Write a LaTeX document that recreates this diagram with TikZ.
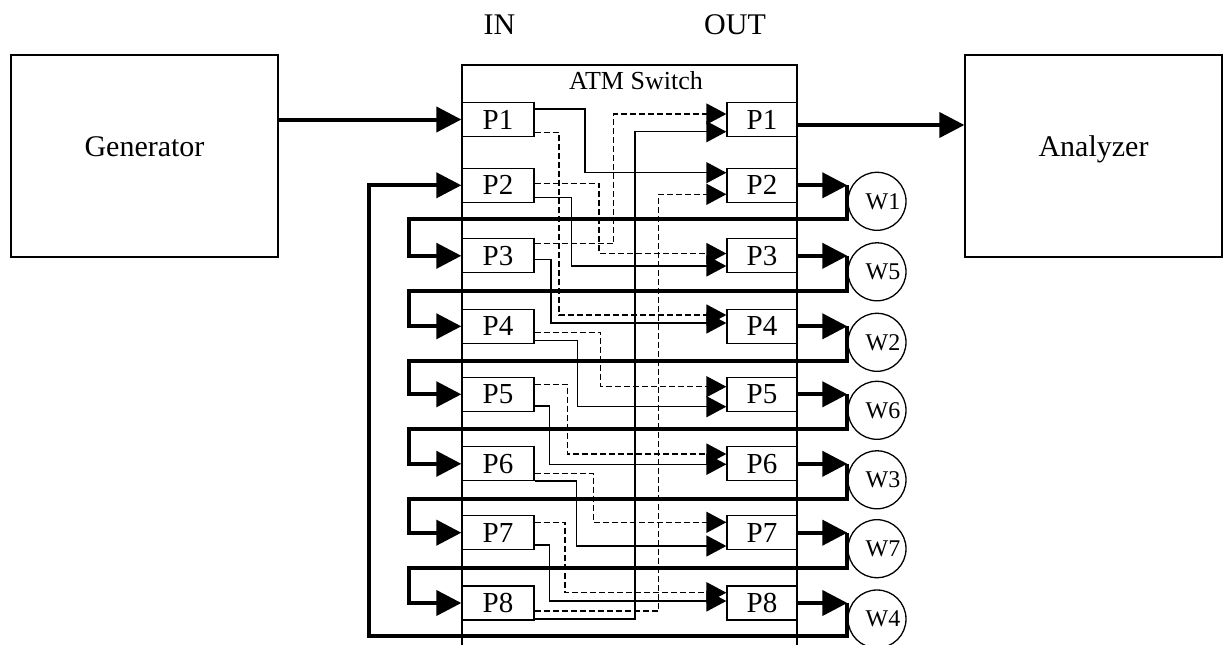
\documentclass[tikz,border=0pt]{standalone}
\usepackage{fontspec}
\setmainfont{Liberation Serif}
\usetikzlibrary{arrows.meta}
\newcommand\myBig{\fontsize{30}{36}\selectfont}
\newcommand\myPort{\fontsize{29}{34}\selectfont}
\newcommand\myAtm{\fontsize{26}{31}\selectfont}
\newcommand\myW{\fontsize{24}{28}\selectfont}
\begin{document}
\begin{tikzpicture}[x=1pt,y=-1pt,
  box/.style={draw, line width=1.3pt, inner sep=0pt},
  bigbox/.style={box, minimum width=267pt, minimum height=202pt, font=\myBig, text height=10pt, text depth=10pt},
  inport/.style={box, minimum width=72pt, minimum height=34pt, font=\myPort},
  outport/.style={box, minimum width=70pt, minimum height=34pt, font=\myPort},
  wnode/.style={draw, circle, line width=1.3pt, minimum size=58pt, inner sep=0pt, font=\myW},
  sig/.style={line width=1.4pt, -{Triangle[length=20pt,width=21pt]}},
  dsig/.style={sig, dash pattern=on 6pt off 3pt},
  thk/.style={line width=4pt},
  thka/.style={thk, -{Triangle[length=25pt,width=25pt]}},
  lbl/.style={font=\myBig, anchor=base},
]
\useasboundingbox (0,0) rectangle (1232,645);

% outer boxes
\node[bigbox] (gen) at (144.5,156) {Generator};
\node[bigbox, minimum width=257pt] (ana) at (1093.5,156) {Analyzer};

% switch outline
\draw[line width=1.3pt] (462,645) -- (462,65) -- (797,65) -- (797,645);
\node[lbl] (inl) at (499.5,34.3) {IN};
\node[lbl] (outl) at (735,34.3) {OUT};
\node[font=\myAtm, anchor=base] (atm) at (636,89) {ATM Switch};

% ports
\foreach \k/\y in {1/119.5,2/185.3,3/255.8,4/326.3,5/394.3,6/463.8,7/532.7,8/603}{
  \node[inport] (i\k) at (498,\y) {P\k};
  \node[outport] (o\k) at (762,\y) {P\k};
}

% W circles
\foreach \w/\y in {1/201.3,5/271.8,2/342.3,6/410.3,3/479.8,7/548.7,4/619}{
  \node[wnode] (w\w) at (877,\y) {\hspace*{12pt}W\w};
}

% switching connectors
\draw[sig]  (i1.east |- 0,109)   -| (585,172.7)   -- (o2.west |- 0,172.7);
\draw[dsig] (i1.east |- 0,132.3) -| (559,315)     -- (o4.west |- 0,315);
\draw[dsig] (i2.east |- 0,183.7) -| (599,253.5)   -- (o3.west |- 0,253.5);
\draw[sig]  (i2.east |- 0,197.7) -| (571.7,266)   -- (o3.west |- 0,266);
\draw[dsig] (i3.east |- 0,243.7) -| (613.5,114)   -- (o1.west |- 0,114);
\draw[sig]  (i3.east |- 0,259.3) -| (551,323)     -- (o4.west |- 0,323);
\draw[dsig] (i4.east |- 0,332.3) -| (600.7,386.7) -- (o5.west |- 0,386.7);
\draw[sig]  (i4.east |- 0,340.7) -| (577.3,406.7) -- (o5.west |- 0,406.7);
\draw[dsig] (i5.east |- 0,384.3) -| (567.3,454)   -- (o6.west |- 0,454);
\draw[sig]  (i5.east |- 0,406)   -| (549.3,464.3) -- (o6.west |- 0,464.3);
\draw[dsig] (i6.east |- 0,473.3) -| (593.3,522.3) -- (o7.west |- 0,522.3);
\draw[sig]  (i6.east |- 0,481)   -| (576.7,546)   -- (o7.west |- 0,546);
\draw[dsig] (i7.east |- 0,522.3) -| (565,592.7)   -- (o8.west |- 0,592.7);
\draw[sig]  (i7.east |- 0,545)   -| (549.3,601)   -- (o8.west |- 0,601);
\draw[dsig] (i8.east |- 0,611)   -| (658.3,194.3) -- (o2.west |- 0,194.3);
\draw[sig]  (i8.east |- 0,619)   -| (635,131.7)   -- (o1.west |- 0,131.7);

% thick paths
\draw[thka] (gen.east |- i1.west) -- (i1.west);
\draw[thka] (o1.east |- 0,125) -- (ana.west |- 0,125);
\foreach \o/\w/\i/\ly in {2/1/3/219.3,3/5/4/291,4/2/5/361,5/6/6/429,6/3/7/499,7/7/8/568}{
  \draw[thka] (o\o.east) -- (w\w.west |- o\o.east);
  \draw[thka] (w\w.west |- o\o.east) |- (409.3,\ly) |- (i\i.west);
}
\draw[thka] (o8.east) -- (w4.west |- o8.east);
\draw[thka] (w4.west |- o8.east) |- (369.3,636) |- (i2.west);
\end{tikzpicture}
\end{document}
